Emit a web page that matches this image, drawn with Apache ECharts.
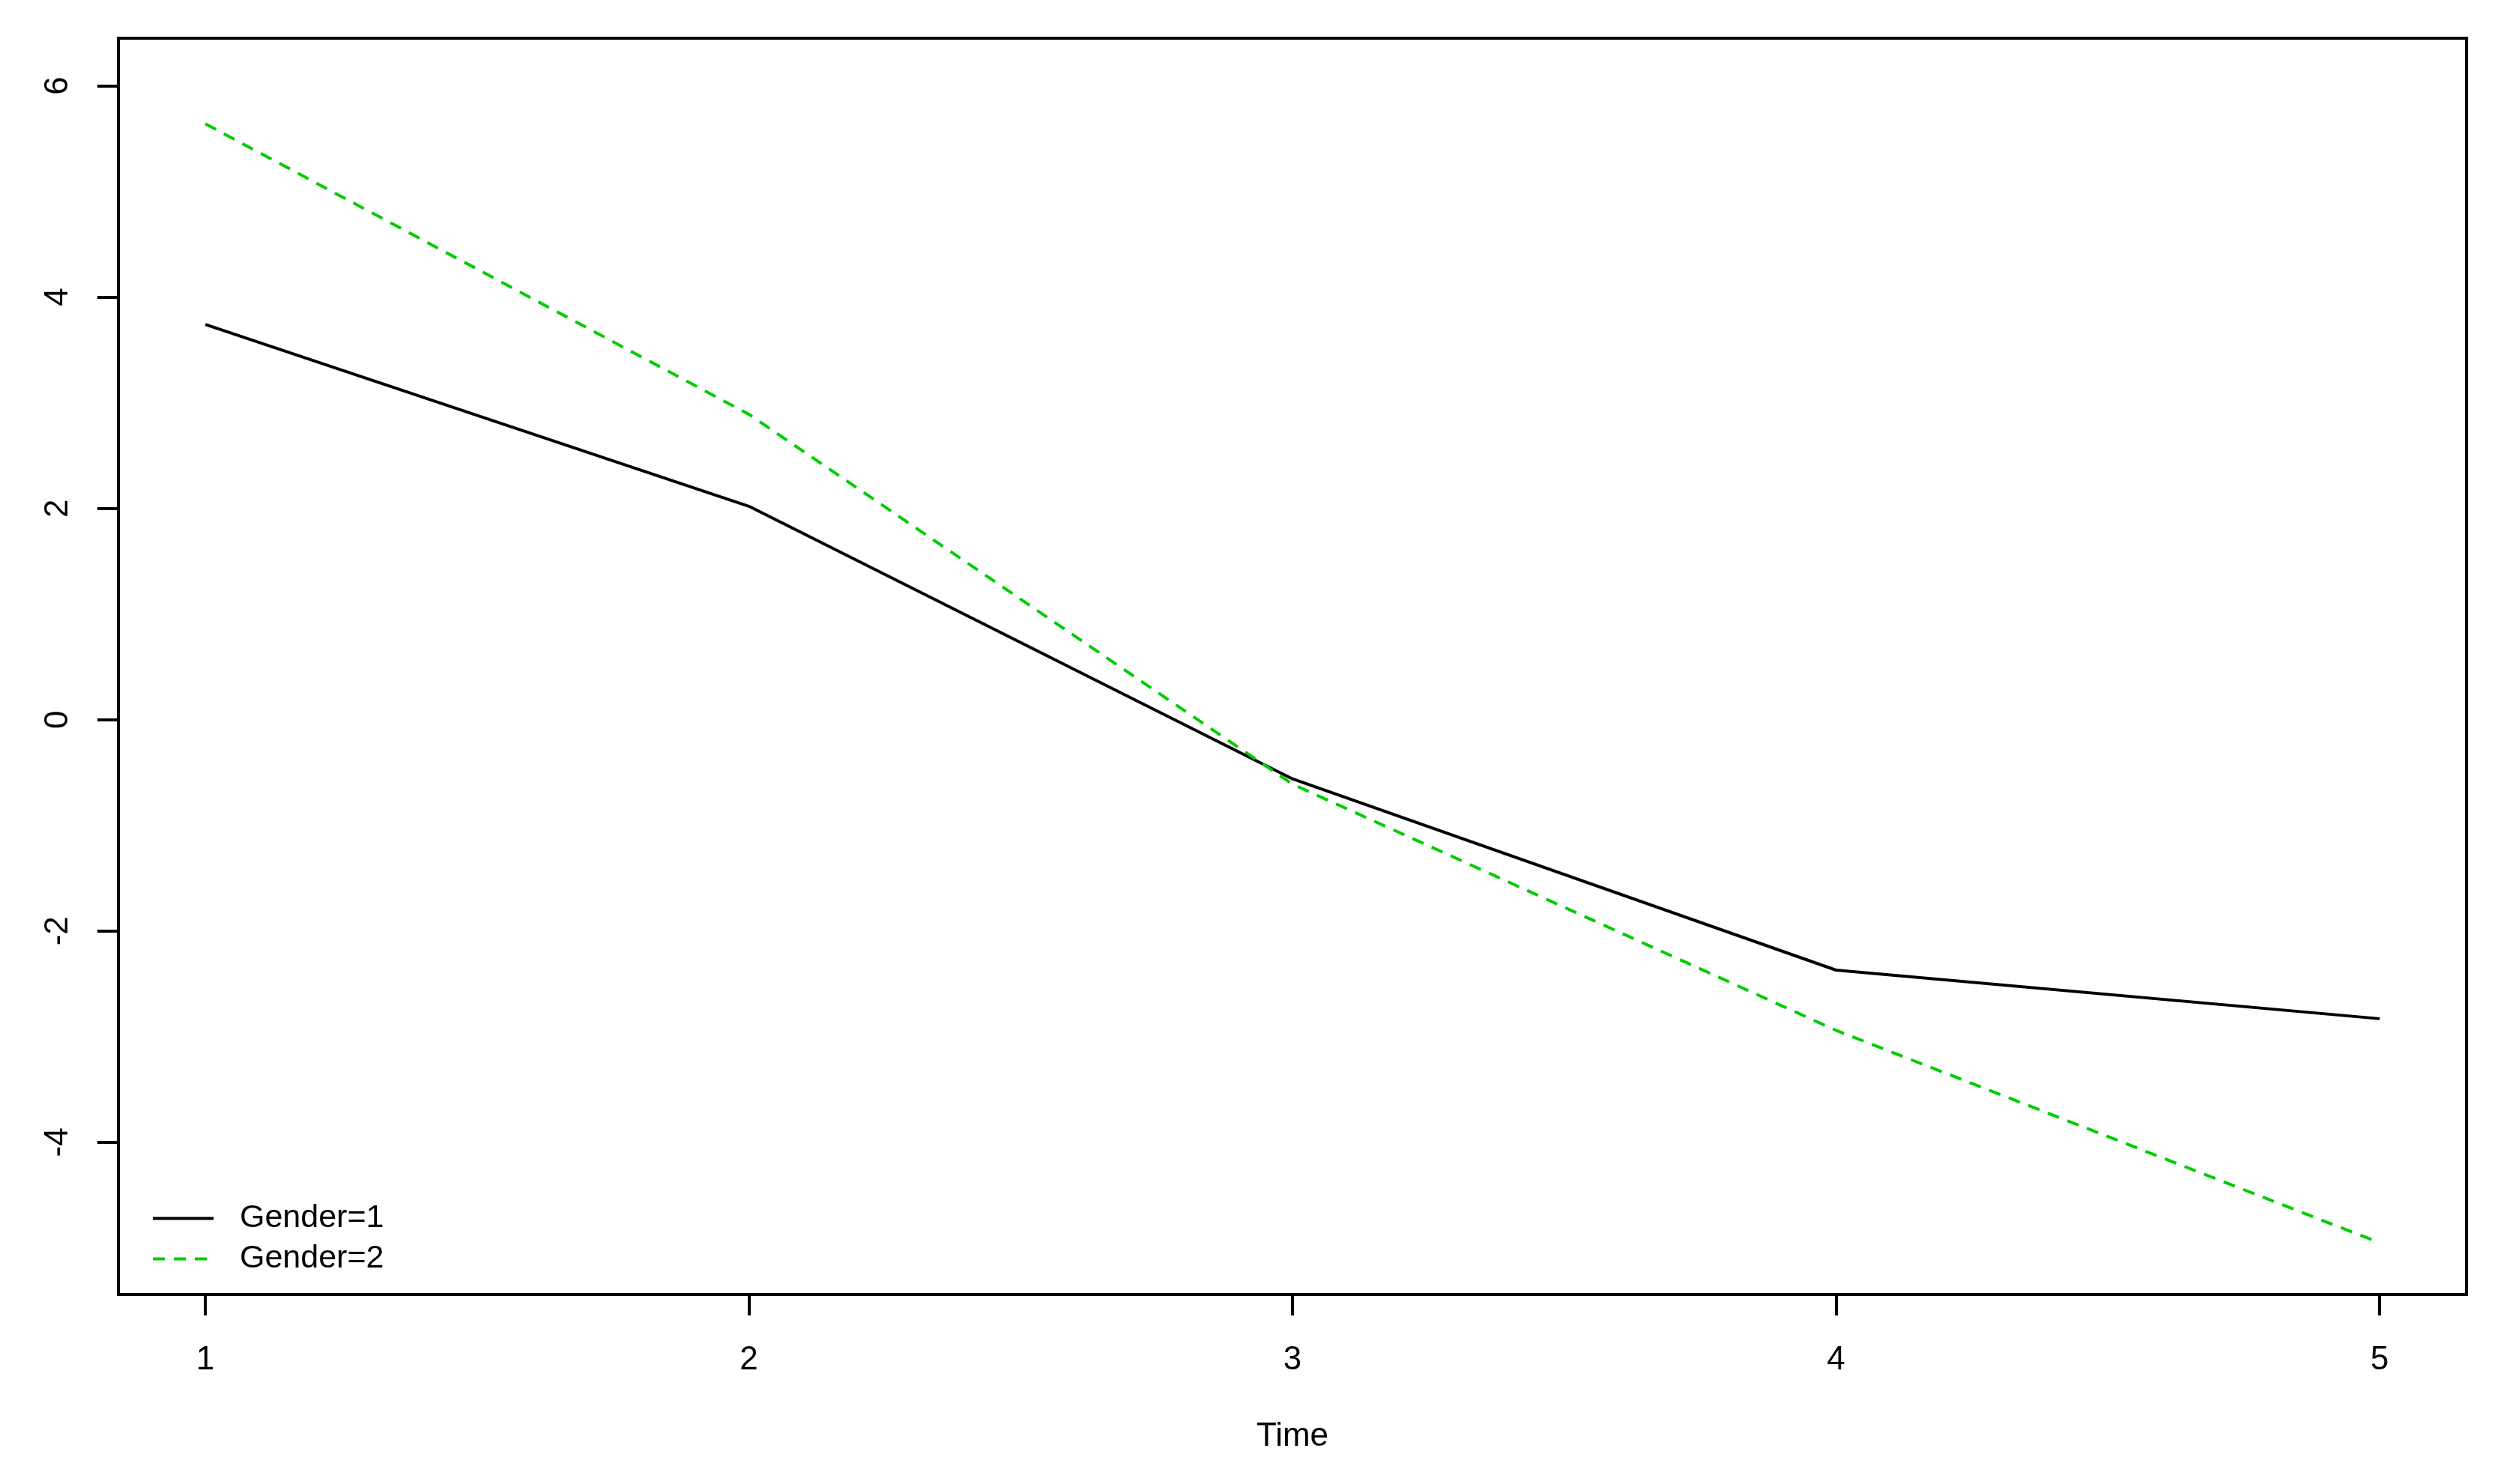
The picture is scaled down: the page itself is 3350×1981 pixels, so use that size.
<!DOCTYPE html>
<html>
<head>
<meta charset="utf-8">
<script src="https://cdn.jsdelivr.net/npm/echarts@6/dist/echarts.min.js"></script>
<style>
  html, body { margin: 0; padding: 0; background: #fff; }
  #chart { width: 3350px; height: 1981px; }
</style>
</head>
<body>
<div id="chart"></div>
<script>
// 数据
const times = [1, 2, 3, 4, 5]
const gender1 = [3.74, 2.02, -0.56, -2.37, -2.83]
const gender2 = [5.64, 2.89, -0.61, -2.94, -4.95]
const xTicks = [1, 2, 3, 4, 5]
const yTicks = [-4, -2, 0, 2, 4, 6]

const font = 'Liberation Sans, Arial, sans-serif'
const toPairs = vals => times.map((t, i) => [t, vals[i]])

const myChart = echarts.init(document.getElementById('chart'))
const option = {
  animation: false,
  backgroundColor: '#fff',
  grid: {
    show: true,
    left: 158,
    top: 51,
    width: 3134,
    height: 1677,
    borderColor: '#000',
    borderWidth: 4,
    backgroundColor: 'transparent'
  },
  legend: {
    left: 197,
    top: 1600,
    orient: 'vertical',
    itemWidth: 81,
    itemHeight: 14,
    itemGap: 11,
    itemStyle: { opacity: 0 },
    lineStyle: { width: 4 },
    textStyle: {
      fontFamily: font,
      fontSize: 43,
      color: '#000',
      padding: [0, 0, 0, 30]
    },
    data: ['Gender=1', 'Gender=2']
  },
  xAxis: {
    type: 'value',
    min: 0.84,
    max: 5.16,
    name: 'Time',
    nameLocation: 'middle',
    nameGap: 168,
    nameTextStyle: { fontFamily: font, fontSize: 44, color: '#000' },
    splitLine: { show: false },
    axisLine: { show: false, onZero: false },
    axisTick: {
      show: true,
      length: 28,
      customValues: xTicks,
      lineStyle: { color: '#000', width: 4 }
    },
    axisLabel: {
      customValues: xTicks,
      margin: 66,
      fontFamily: font,
      fontSize: 44,
      color: '#000'
    }
  },
  yAxis: {
    type: 'value',
    min: -5.44,
    max: 6.45,
    splitLine: { show: false },
    axisLine: { show: false, onZero: false },
    axisTick: {
      show: true,
      length: 28,
      customValues: yTicks,
      lineStyle: { color: '#000', width: 4 }
    },
    axisLabel: {
      customValues: yTicks,
      rotate: 90,
      margin: 58,
      fontFamily: font,
      fontSize: 44,
      color: '#000'
    }
  },
  series: [
    {
      name: 'Gender=1',
      type: 'line',
      data: toPairs(gender1),
      symbol: 'none',
      color: '#000',
      lineStyle: { color: '#000', width: 4 }
    },
    {
      name: 'Gender=2',
      type: 'line',
      data: toPairs(gender2),
      symbol: 'none',
      color: '#00cd00',
      lineStyle: { color: '#00cd00', width: 4, type: [16, 12] }
    }
  ]
}
myChart.setOption(option)
</script>
</body>
</html>
